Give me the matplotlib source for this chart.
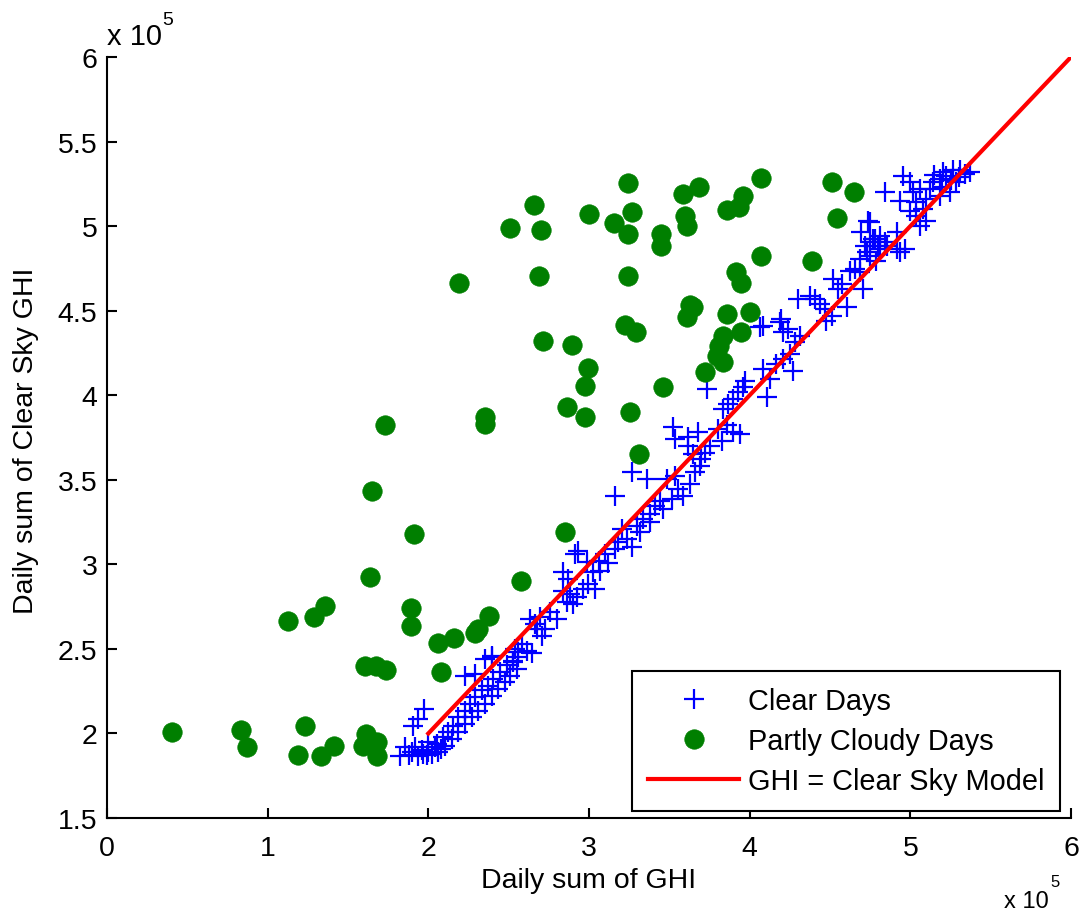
import numpy as np
import matplotlib
matplotlib.use("Agg")
import matplotlib.pyplot as plt
from matplotlib.ticker import FuncFormatter

plt.rcParams['font.family'] = ['Liberation Sans', 'DejaVu Sans']

SCALE = 1e5  # values below are in units of 10^5

# Clear days: daily sum of GHI vs daily sum of clear-sky GHI
clear_x = [
    1.975, 1.937, 1.906, 1.854, 1.823, 1.896, 1.937, 1.968, 1.989, 2.000,
    2.051, 2.093, 2.124, 2.155, 2.186, 2.228, 2.259, 2.290, 2.332, 2.373,
    2.404, 2.446, 2.487, 2.528, 2.560, 2.228, 2.290, 2.394, 2.353, 2.061,
    2.103, 2.145, 2.186, 2.228, 2.269, 2.311, 2.353, 2.394, 2.436, 2.477,
    2.508, 2.550, 1.999, 2.041, 1.880, 1.960, 2.020, 2.080, 1.920,
    2.394, 2.540, 2.580, 2.611, 2.643, 2.560, 2.529, 2.674, 2.705, 2.726,
    2.757, 2.695, 2.632, 2.664, 2.840, 2.871, 2.840, 2.882, 2.923, 2.965,
    2.996, 2.913, 2.986, 3.027, 3.037, 2.861, 2.903, 2.799,
    2.933, 3.161, 3.265, 3.358, 3.203, 3.182, 3.234, 3.265, 3.296, 3.338,
    3.379, 3.410, 3.441, 3.462, 3.379, 3.317, 3.483, 3.535, 3.556, 3.587,
    3.628, 3.659, 3.535, 3.618, 3.650, 3.514, 3.161, 3.060, 3.100, 3.120,
    3.070,
    3.524, 3.617, 3.679, 3.732, 3.835, 3.866, 3.898, 3.929, 3.960, 3.970,
    4.105, 4.126, 4.084, 4.167, 4.209, 4.250, 4.281, 4.063, 4.188, 4.240,
    4.271, 3.856, 3.898, 3.939, 3.825, 3.804, 3.700, 3.720, 3.750, 3.690,
    4.084, 4.198, 4.209, 4.312, 4.302, 4.375, 4.406, 4.437, 4.468, 4.478,
    4.510, 4.520, 4.551, 4.572, 4.603, 4.624, 4.655, 4.686, 4.707, 4.728,
    4.749, 4.780, 4.801, 4.811, 4.842, 4.749, 4.686, 4.914, 4.914,
    4.737, 4.696, 4.716, 4.768, 4.810, 4.748, 4.789, 4.852, 4.934, 4.966,
    4.841, 4.934, 4.955, 4.997, 5.017, 5.038, 4.997, 5.038, 5.080, 5.100,
    5.121, 5.142, 5.183, 5.225, 5.266, 5.308, 5.339, 5.370, 5.287, 5.245,
    5.183, 5.204, 5.059, 5.100, 5.150, 5.250, 5.300, 5.060, 5.200,
]
clear_y = [
    2.145, 2.085, 2.046, 1.918, 1.868, 1.889, 1.868, 1.878, 1.870, 1.889,
    1.938, 1.977, 2.007, 2.046, 2.096, 2.135, 2.175, 2.214, 2.254, 2.283,
    2.323, 2.362, 2.402, 2.431, 2.481, 2.342, 2.352, 2.460, 2.440, 1.889,
    1.928, 1.967, 2.007, 2.056, 2.096, 2.135, 2.175, 2.224, 2.264, 2.303,
    2.342, 2.382, 1.948, 1.918, 1.870, 1.900, 1.880, 1.910, 1.920,
    2.450, 2.499, 2.529, 2.490, 2.476, 2.450, 2.421, 2.618, 2.578, 2.618,
    2.717, 2.687, 2.677, 2.648, 2.953, 2.914, 2.845, 2.825, 2.805, 2.855,
    2.885, 3.062, 3.013, 2.953, 2.855, 2.776, 2.766, 2.677,
    3.081, 3.406, 3.544, 3.505, 3.209, 3.130, 3.150, 3.101, 3.229, 3.268,
    3.298, 3.347, 3.377, 3.327, 3.249, 3.189, 3.505, 3.524, 3.445, 3.406,
    3.475, 3.544, 3.741, 3.702, 3.652, 3.386, 3.091, 3.020, 3.060, 3.010,
    2.960,
    3.810, 3.751, 3.781, 4.037, 3.919, 3.948, 3.978, 4.017, 4.047, 4.086,
    3.988, 4.096, 4.155, 4.185, 4.214, 4.244, 4.313, 4.401, 4.431, 4.392,
    4.145, 3.821, 3.781, 3.771, 3.732, 3.801, 3.620, 3.660, 3.700, 3.580,
    4.411, 4.450, 4.372, 4.352, 4.569, 4.589, 4.569, 4.539, 4.510, 4.441,
    4.470, 4.687, 4.628, 4.658, 4.520, 4.737, 4.746, 4.805, 4.628, 4.845,
    4.904, 4.924, 4.884, 4.943, 4.904, 5.022, 4.727, 4.865, 4.963,
    5.032, 4.963, 4.884, 4.924, 4.865, 4.825, 4.796, 4.884, 4.845, 4.865,
    5.200, 5.151, 5.299, 5.259, 5.200, 5.141, 5.092, 5.062, 5.101, 5.161,
    5.220, 5.259, 5.279, 5.299, 5.330, 5.330, 5.309, 5.318, 5.259, 5.200,
    5.181, 5.320, 5.003, 5.032, 5.300, 5.270, 5.290, 5.220, 5.230,
]

# Partly cloudy days
cloudy_x = [
    0.402, 0.832, 0.873, 1.232, 1.191, 1.330, 1.415, 1.615, 1.595, 1.678,
    1.678, 1.124, 1.288, 1.359, 1.634, 1.910, 1.649, 1.730, 1.895, 1.895,
    1.605, 1.674, 1.734, 2.062, 2.161, 2.076, 2.290, 2.311, 2.379, 2.576,
    2.850, 3.240, 2.659, 2.507, 2.701, 3.003, 3.158, 3.268, 3.240, 3.585,
    3.683, 3.449, 3.449, 3.600, 3.613, 3.862, 3.960, 3.932, 4.069, 4.512,
    4.649, 4.541, 2.188, 2.688, 3.240, 4.069, 4.389, 3.918, 3.945, 3.628,
    3.649, 3.613, 3.862, 4.001, 3.945, 3.835, 3.810, 3.794, 3.835, 3.725,
    3.227, 3.295, 2.715, 2.895, 2.991, 2.978, 3.463, 2.866, 2.978, 3.254,
    2.354, 2.354, 3.310,
]
cloudy_y = [
    2.010, 2.022, 1.918, 2.046, 1.874, 1.865, 1.928, 1.997, 1.928, 1.948,
    1.868, 2.663, 2.690, 2.755, 2.927, 3.178, 3.434, 3.824, 2.744, 2.637,
    2.401, 2.401, 2.375, 2.533, 2.563, 2.363, 2.592, 2.618, 2.692, 2.902,
    3.191, 5.255, 5.125, 4.990, 4.979, 5.069, 5.019, 5.085, 4.953, 5.190,
    5.230, 4.953, 4.884, 5.061, 5.003, 5.097, 5.179, 5.111, 5.282, 5.261,
    5.204, 5.046, 4.664, 4.703, 4.703, 4.822, 4.796, 4.731, 4.662, 4.534,
    4.519, 4.460, 4.480, 4.494, 4.376, 4.352, 4.293, 4.234, 4.195, 4.140,
    4.416, 4.376, 4.323, 4.297, 4.163, 4.056, 4.047, 3.929, 3.874, 3.902,
    3.869, 3.830, 3.653,
]

# Clear-sky model reference: GHI equals clear-sky GHI
model_x = [2.0, 6.0]
model_y = [2.0, 6.0]

x_ticks = [0, 1, 2, 3, 4, 5, 6]
y_ticks = [1.5, 2, 2.5, 3, 3.5, 4, 4.5, 5, 5.5, 6]

W, H = 1081, 912
fig = plt.figure(figsize=(W / 100, H / 100), dpi=100)
ax = fig.add_axes([107 / W, (H - 819) / H, (1071 - 107) / W, (819 - 58) / H])

ax.plot(np.array(clear_x) * SCALE, np.array(clear_y) * SCALE, linestyle='none',
        marker='+', color='#0000ff', markersize=14, markeredgewidth=1.6,
        label='Clear Days')
ax.plot(np.array(cloudy_x) * SCALE, np.array(cloudy_y) * SCALE, linestyle='none',
        marker='o', color='#007f00', markeredgecolor='#007f00', markersize=14,
        markeredgewidth=0.5, label='Partly Cloudy Days')
ax.plot(np.array(model_x) * SCALE, np.array(model_y) * SCALE, '-', color='#ff0000',
        linewidth=3, label='GHI = Clear Sky Model')

ax.set_xlim(0, 6 * SCALE)
ax.set_ylim(1.5 * SCALE, 6 * SCALE)
ax.set_xticks([t * SCALE for t in x_ticks])
ax.set_yticks([t * SCALE for t in y_ticks])
fmt = FuncFormatter(lambda v, p: f'{v / SCALE:g}')
ax.xaxis.set_major_formatter(fmt)
ax.yaxis.set_major_formatter(fmt)

for side in ('top', 'right'):
    ax.spines[side].set_visible(False)
for side in ('left', 'bottom'):
    ax.spines[side].set_linewidth(1.5)
    ax.spines[side].set_color('black')

ax.tick_params(direction='in', length=7.5, width=1.5, labelsize=20.5,
               colors='black')
ax.tick_params(axis='x', pad=12)
ax.tick_params(axis='y', pad=7)

fs = 20.5
fig.text(589 / W, 1 - 881 / H, 'Daily sum of GHI', ha='center', va='center',
         fontsize=fs)
fig.text(26 / W, 1 - 441 / H, 'Daily sum of Clear Sky GHI', ha='center',
         va='center', rotation=90, fontsize=fs)

# exponent annotations
fig.text(107 / W, 1 - 45 / H, 'x 10', ha='left', va='baseline', fontsize=21)
fig.text(162 / W, 1 - 25 / H, '5', ha='left', va='baseline', fontsize=14)
fig.text(1004 / W, 1 - 908 / H, 'x 10', ha='left', va='baseline', fontsize=17)
fig.text(1050 / W, 1 - 887 / H, '5', ha='left', va='baseline', fontsize=12)

leg = ax.legend(loc='upper right', bbox_to_anchor=(1060 / W, 1 - 672 / H),
                bbox_transform=fig.transFigure, borderaxespad=0,
                fontsize=20.8, frameon=True, fancybox=False, framealpha=1,
                edgecolor='black', handlelength=3.15, handletextpad=0.3,
                borderpad=0.55, labelspacing=0.42, markerscale=1.0)
leg.get_frame().set_linewidth(1.5)

fig.savefig('out.png', dpi=100, facecolor='white')
